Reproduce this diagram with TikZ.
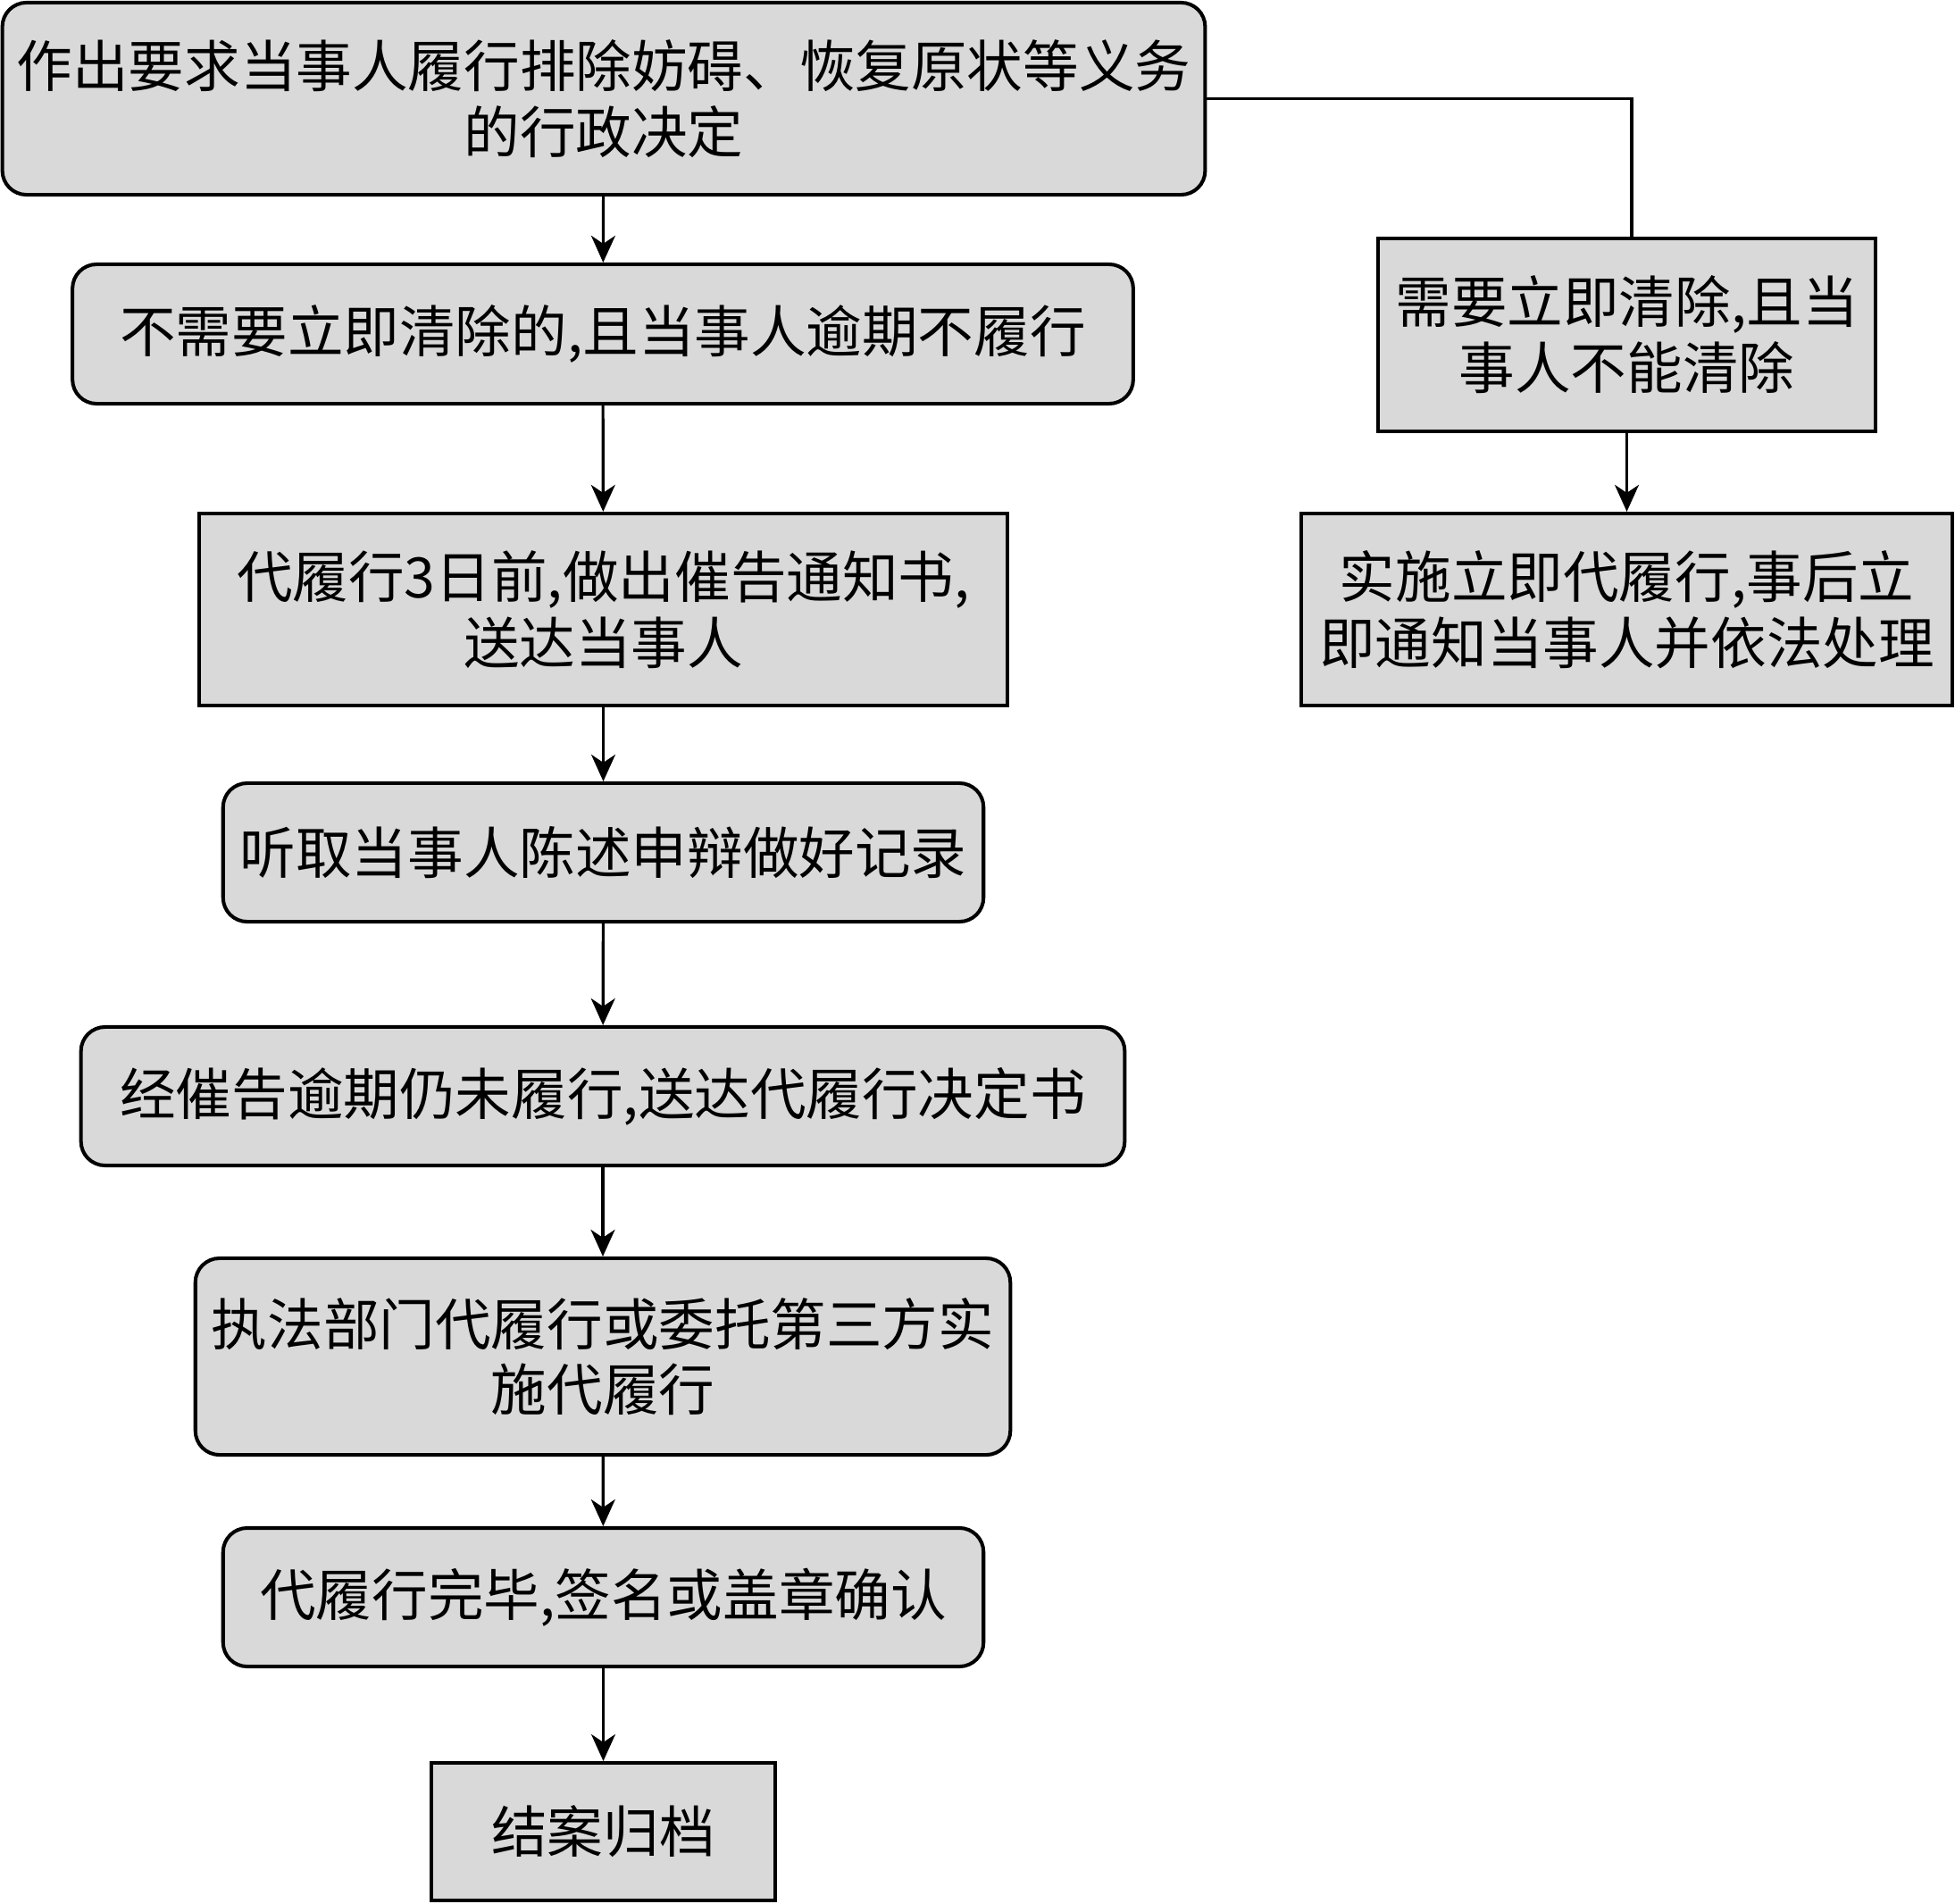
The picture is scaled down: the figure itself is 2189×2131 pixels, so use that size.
\documentclass[tikz,border=0pt]{standalone}
\usepackage{fontspec}
\setmainfont{Noto Sans CJK SC}
\usetikzlibrary{arrows.meta}
\begin{document}
\begin{tikzpicture}[x=0.01cm,y=-0.01cm,
  basebox/.style={draw=black, line width=1.15pt, fill={rgb,255:red,217;green,217;blue,217},
    inner sep=0pt, align=center, font=\fontsize{17.8pt}{21pt}\selectfont},
  rbox/.style={basebox, rounded corners=0.27cm},
  sbox/.style={basebox},
  arr/.style={line width=0.9pt, -{Stealth[length=3mm,width=2.7mm,inset=0.9mm]}},
  conn/.style={line width=0.9pt}]
\useasboundingbox (0,0) rectangle (2189,2131);
\node[rbox, minimum width=13.46cm, minimum height=2.15cm] (b1) at (676,110.5)
  {作出要求当事人履行排除妨碍、恢复原状等义务\\的行政决定};
\node[rbox, minimum width=11.87cm, minimum height=1.56cm] (b2) at (675,374)
  {不需要立即清除的,且当事人逾期不履行};
\node[sbox, minimum width=9.05cm, minimum height=2.15cm] (b3) at (675.5,682.5)
  {代履行3日前,做出催告通知书,\\送达当事人};
\node[rbox, minimum width=8.51cm, minimum height=1.55cm] (b4) at (675.5,954.5)
  {听取当事人陈述申辩做好记录};
\node[rbox, minimum width=11.68cm, minimum height=1.55cm] (b5) at (675,1227.5)
  {经催告逾期仍未履行,送达代履行决定书};
\node[rbox, minimum width=9.12cm, minimum height=2.2cm] (b6) at (675,1519)
  {执法部门代履行或委托第三方实\\施代履行};
\node[rbox, minimum width=8.51cm, minimum height=1.55cm] (b7) at (675.5,1788.5)
  {代履行完毕,签名或盖章确认};
\node[sbox, minimum width=3.85cm, minimum height=1.54cm] (b8) at (675.5,2051)
  {结案归档};
\node[sbox, minimum width=5.57cm, minimum height=2.16cm] (ra) at (1821.5,375)
  {需要立即清除,且当\\事人不能清除};
\node[sbox, minimum width=7.29cm, minimum height=2.15cm] (rb) at (1821.5,682.5)
  {实施立即代履行,事后立\\即通知当事人并依法处理};
\draw[arr] (b1) -- (b2);
\draw[arr] (b2) -- (b3);
\draw[arr] (b3) -- (b4);
\draw[arr] (b4) -- (b5);
\draw[arr] (b5) -- (b6);
\draw[arr] (b6) -- (b7);
\draw[arr] (b7) -- (b8);
\draw[arr] (ra) -- (rb);
\draw[conn] (b1.east) -| ([xshift=0.055cm]ra.north);
\end{tikzpicture}
\end{document}
